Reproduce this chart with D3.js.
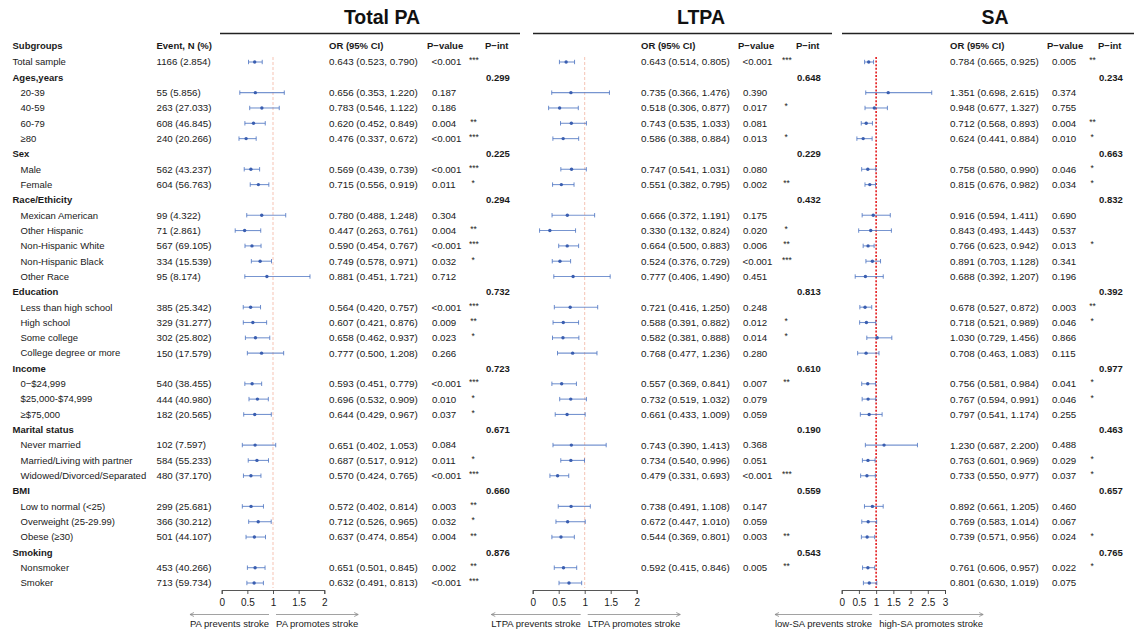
<!DOCTYPE html>
<html>
<head>
<meta charset="utf-8">
<script src="https://cdn.jsdelivr.net/npm/d3@7"></script>
<style>
  body { margin: 0; background: #fff; }
  svg { font-family: "Liberation Sans", Arial, sans-serif; }
</style>
</head>
<body>
<div class="forestContainer"></div>
<script>
var subgroups = ["Total sample", "Ages,years", "20-39", "40-59", "60-79", "\u226580",
    "Sex", "Male", "Female",
    "Race/Ethicity", "Mexican American", "Other Hispanic", "Non-Hispanic White", "Non-Hispanic Black", "Other Race",
    "Education", "Less than high school", "High school", "Some college", "College degree or more",
    "Income", "0\u2212$24,999", "$25,000-$74,999", "\u2265$75,000",
    "Marital status", "Never married", "Married/Living with partner", "Widowed/Divorced/Separated",
    "BMI", "Low to normal (<25)", "Overweight (25-29.99)", "Obese (\u226530)",
    "Smoking", "Nonsmoker", "Smoker"];

var events = ["1166 (2.854)", null, "55 (5.856)", "263 (27.033)", "608 (46.845)", "240 (20.266)",
    null, "562 (43.237)", "604 (56.763)",
    null, "99 (4.322)", "71 (2.861)", "567 (69.105)", "334 (15.539)", "95 (8.174)",
    null, "385 (25.342)", "329 (31.277)", "302 (25.802)", "150 (17.579)",
    null, "540 (38.455)", "444 (40.980)", "182 (20.565)",
    null, "102 (7.597)", "584 (55.233)", "480 (37.170)",
    null, "299 (25.681)", "366 (30.212)", "501 (44.107)",
    null, "453 (40.266)", "713 (59.734)"];

var groups = ["Ages,years", "Sex", "Race/Ethicity", "Education", "Income", "Marital status", "BMI", "Smoking"];

// Total PA
var totalOR = [0.643, null, 0.656, 0.783, 0.620, 0.476, null, 0.569, 0.715, null, 0.780, 0.447, 0.590, 0.749, 0.881,
    null, 0.564, 0.607, 0.658, 0.777, null, 0.593, 0.696, 0.644, null, 0.651, 0.687, 0.570, null, 0.572, 0.712, 0.637,
    null, 0.651, 0.632];
var totalLo = [0.523, null, 0.353, 0.546, 0.452, 0.337, null, 0.439, 0.556, null, 0.488, 0.263, 0.454, 0.578, 0.451,
    null, 0.420, 0.421, 0.462, 0.500, null, 0.451, 0.532, 0.429, null, 0.402, 0.517, 0.424, null, 0.402, 0.526, 0.474,
    null, 0.501, 0.491];
var totalHi = [0.790, null, 1.220, 1.122, 0.849, 0.672, null, 0.739, 0.919, null, 1.248, 0.761, 0.767, 0.971, 1.721,
    null, 0.757, 0.876, 0.937, 1.208, null, 0.779, 0.909, 0.967, null, 1.053, 0.912, 0.765, null, 0.814, 0.965, 0.854,
    null, 0.845, 0.813];
var totalP = ["<0.001", null, "0.187", "0.186", "0.004", "<0.001", null, "<0.001", "0.011", null, "0.304", "0.004", "<0.001", "0.032", "0.712",
    null, "<0.001", "0.009", "0.023", "0.266", null, "<0.001", "0.010", "0.037", null, "0.084", "0.011", "<0.001", null, "0.003", "0.032", "0.004",
    null, "0.002", "<0.001"];
var totalPint = ["0.299", "0.225", "0.294", "0.732", "0.723", "0.671", "0.660", "0.876"];

// LTPA
var ltpaOR = [0.643, null, 0.735, 0.518, 0.743, 0.586, null, 0.747, 0.551, null, 0.666, 0.330, 0.664, 0.524, 0.777,
    null, 0.721, 0.588, 0.582, 0.768, null, 0.557, 0.732, 0.661, null, 0.743, 0.734, 0.479, null, 0.738, 0.672, 0.544,
    null, 0.592, 0.698];
var ltpaLo = [0.514, null, 0.366, 0.306, 0.535, 0.388, null, 0.541, 0.382, null, 0.372, 0.132, 0.500, 0.376, 0.406,
    null, 0.416, 0.391, 0.381, 0.477, null, 0.369, 0.519, 0.433, null, 0.390, 0.540, 0.331, null, 0.491, 0.447, 0.369,
    null, 0.415, 0.506];
var ltpaHi = [0.805, null, 1.476, 0.877, 1.033, 0.884, null, 1.031, 0.795, null, 1.191, 0.824, 0.883, 0.729, 1.490,
    null, 1.250, 0.882, 0.888, 1.236, null, 0.841, 1.032, 1.009, null, 1.413, 0.996, 0.693, null, 1.108, 1.010, 0.801,
    null, 0.846, 0.942];
var ltpaP = ["<0.001", null, "0.390", "0.017", "0.081", "0.013", null, "0.080", "0.002", null, "0.175", "0.020", "0.006", "<0.001", "0.451",
    null, "0.248", "0.012", "0.014", "0.280", null, "0.007", "0.079", "0.059", null, "0.368", "0.051", "<0.001", null, "0.147", "0.059", "0.003",
    null, "0.005", null];
var ltpaPint = ["0.648", "0.229", "0.432", "0.813", "0.610", "0.190", "0.559", "0.543"];

// SA
var saOR = [0.784, null, 1.351, 0.948, 0.712, 0.624, null, 0.758, 0.815, null, 0.916, 0.843, 0.766, 0.891, 0.688,
    null, 0.678, 0.718, 1.030, 0.708, null, 0.756, 0.767, 0.797, null, 1.230, 0.763, 0.733, null, 0.892, 0.769, 0.739,
    null, 0.761, 0.801];
var saLo = [0.665, null, 0.698, 0.677, 0.568, 0.441, null, 0.580, 0.676, null, 0.594, 0.493, 0.623, 0.703, 0.392,
    null, 0.527, 0.521, 0.729, 0.463, null, 0.581, 0.594, 0.541, null, 0.687, 0.601, 0.550, null, 0.661, 0.583, 0.571,
    null, 0.606, 0.630];
var saHi = [0.925, null, 2.615, 1.327, 0.893, 0.884, null, 0.990, 0.982, null, 1.411, 1.443, 0.942, 1.128, 1.207,
    null, 0.872, 0.989, 1.456, 1.083, null, 0.984, 0.991, 1.174, null, 2.200, 0.969, 0.977, null, 1.205, 1.014, 0.956,
    null, 0.957, 1.019];
var saP = ["0.005", null, "0.374", "0.755", "0.004", "0.010", null, "0.046", "0.034", null, "0.690", "0.537", "0.013", "0.341", "0.196",
    null, "0.003", "0.046", "0.866", "0.115", null, "0.041", "0.046", "0.255", null, "0.488", "0.029", "0.037", null, "0.460", "0.067", "0.024",
    null, "0.022", "0.075"];
var saPint = ["0.234", "0.663", "0.832", "0.392", "0.977", "0.463", "0.657", "0.765"];

var totalTicks = [0, 0.5, 1, 1.5, 2],
    saTicks = [0, 0.5, 1, 1.5, 2, 2.5, 3];

var panels = [
    {title: "Total PA", or: totalOR, lo: totalLo, hi: totalHi, p: totalP, pint: totalPint,
     ticks: totalTicks, range: [221.7, 324.3], orX: 329, pX: 432, starX: 469, pintX: 486,
     titleX: 382, line: [220, 520], left: "PA prevents stroke", right: "PA promotes stroke",
     ref: "#f6c3b3", refDash: "3,2", refW: 1},
    {title: "LTPA", or: ltpaOR, lo: ltpaLo, hi: ltpaHi, p: ltpaP, pint: ltpaPint,
     ticks: totalTicks, range: [532.7, 636.7], orX: 641, pX: 743, starX: 782, pintX: 797,
     titleX: 701, line: [533, 832], left: "LTPA prevents stroke", right: "LTPA promotes stroke",
     ref: "#f6c3b3", refDash: "3,2", refW: 1},
    {title: "SA", or: saOR, lo: saLo, hi: saHi, p: saP, pint: saPint,
     ticks: saTicks, range: [841.7, 945], orX: 950, pX: 1052, starX: 1088, pintX: 1099,
     titleX: 995, line: [842, 1134], left: "low-SA prevents stroke", right: "high-SA promotes stroke",
     ref: "#e41a1c", refDash: "2,1.6", refW: 1.6}
];

var w = 1136,
    h = 632,
    ink = "#1a1a1a",
    blue = "#4a72c0",
    numSize = 9.85,
    f3 = d3.format(".3f");

var svg = d3.select(".forestContainer")
    .append("svg")
    .attr("width", w)
    .attr("height", h);

var y = d3.scalePoint()
    .domain(d3.range(subgroups.length))
    .range([62, 583]);

function stars(p) {
    if (p === "<0.001") return "***";
    var v = +p;
    if (v < 0.01) return "**";
    if (v < 0.05) return "*";
    return "";
}

// left columns
svg.append("text").attr("x", 12.5).attr("y", 46).attr("dy", "0.35em")
    .attr("font-size", 9.5).attr("font-weight", "bold").attr("fill", ink).text("Subgroups");
svg.append("text").attr("x", 156.5).attr("y", 46).attr("dy", "0.35em")
    .attr("font-size", 9.5).attr("font-weight", "bold").attr("fill", ink).text("Event, N (%)");

svg.selectAll(".sub")
    .data(subgroups)
    .enter().append("text")
    .attr("class", "sub")
    .attr("x", function (d, i) { return i > 0 && events[i] !== null ? 20.5 : 12.5; })
    .attr("y", function (d, i) { return y(i); })
    .attr("dy", "0.35em")
    .attr("font-size", 9.5)
    .attr("font-weight", function (d, i) { return events[i] === null ? "bold" : "normal"; })
    .attr("fill", ink)
    .text(function (d) { return d; });

svg.selectAll(".ev")
    .data(events)
    .enter().append("text")
    .attr("class", "ev")
    .attr("x", 156.5)
    .attr("y", function (d, i) { return y(i); })
    .attr("dy", "0.35em")
    .attr("font-size", 9.7)
    .attr("fill", ink)
    .text(function (d) { return d || ""; });

panels.forEach(function (pn) {
    var x = d3.scaleLinear()
        .domain([0, d3.max(pn.ticks)])
        .range(pn.range);
    var g = svg.append("g");

    g.append("text")
        .attr("x", pn.titleX).attr("y", 24)
        .attr("text-anchor", "middle")
        .attr("font-size", 19.5).attr("font-weight", "bold").attr("fill", "#111")
        .text(pn.title);
    g.append("line")
        .attr("x1", pn.line[0]).attr("x2", pn.line[1])
        .attr("y1", 33.5).attr("y2", 33.5)
        .attr("stroke", "#222").attr("stroke-width", 1.3);

    [["OR (95% CI)", pn.orX], ["P\u2212value", pn.pX - 5], ["P\u2212int", pn.pintX - 1]].forEach(function (hd) {
        g.append("text")
            .attr("x", hd[1]).attr("y", 46).attr("dy", "0.35em")
            .attr("font-size", 9.5).attr("font-weight", "bold").attr("fill", ink)
            .text(hd[0]);
    });

    // reference line at OR = 1
    g.append("line")
        .attr("x1", x(1)).attr("x2", x(1))
        .attr("y1", 57).attr("y2", 588)
        .attr("stroke", pn.ref)
        .attr("stroke-width", pn.refW)
        .attr("stroke-dasharray", pn.refDash);

    var rows = d3.range(subgroups.length).filter(function (i) { return pn.or[i] !== null; });

    g.selectAll(".ci")
        .data(rows)
        .enter().append("line")
        .attr("x1", function (i) { return x(pn.lo[i]); })
        .attr("x2", function (i) { return x(pn.hi[i]); })
        .attr("y1", function (i) { return y(i); })
        .attr("y2", function (i) { return y(i); })
        .attr("stroke", blue).attr("stroke-opacity", 0.75).attr("stroke-width", 1.1);

    ["lo", "hi"].forEach(function (k) {
        g.selectAll(".cap" + k)
            .data(rows)
            .enter().append("line")
            .attr("x1", function (i) { return x(pn[k][i]); })
            .attr("x2", function (i) { return x(pn[k][i]); })
            .attr("y1", function (i) { return y(i) - 2.2; })
            .attr("y2", function (i) { return y(i) + 2.2; })
            .attr("stroke", blue).attr("stroke-opacity", 0.8).attr("stroke-width", 1);
    });

    g.selectAll(".pt")
        .data(rows)
        .enter().append("circle")
        .attr("cx", function (i) { return x(pn.or[i]); })
        .attr("cy", function (i) { return y(i); })
        .attr("r", 1.7)
        .attr("fill", "#3a5eb0");

    var labelled = rows.filter(function (i) { return pn.p[i] !== null; });

    g.selectAll(".ort")
        .data(labelled)
        .enter().append("text")
        .attr("x", pn.orX).attr("y", function (i) { return y(i); }).attr("dy", "0.35em")
        .attr("font-size", numSize).attr("fill", ink)
        .text(function (i) { return f3(pn.or[i]) + " (" + f3(pn.lo[i]) + ", " + f3(pn.hi[i]) + ")"; });

    g.selectAll(".pv")
        .data(labelled)
        .enter().append("text")
        .attr("x", function (i) { return pn.p[i] === "<0.001" ? pn.pX - 0.5 : pn.pX; })
        .attr("y", function (i) { return y(i); }).attr("dy", "0.35em")
        .attr("font-size", 9.7).attr("fill", ink)
        .text(function (i) { return pn.p[i]; });

    g.selectAll(".st")
        .data(labelled)
        .enter().append("text")
        .attr("x", function (i) { return pn.starX + (3 - stars(pn.p[i]).length) * 1.2; })
        .attr("y", function (i) { return y(i) - 1.5; }).attr("dy", "0.35em")
        .attr("font-size", 8.5).attr("fill", ink)
        .text(function (i) { return stars(pn.p[i]); });

    g.selectAll(".pint")
        .data(groups)
        .enter().append("text")
        .attr("x", pn.pintX)
        .attr("y", function (d) { return y(subgroups.indexOf(d)); }).attr("dy", "0.35em")
        .attr("font-size", 9.5).attr("font-weight", "bold").attr("fill", ink)
        .text(function (d, j) { return pn.pint[j]; });

    // x axis
    var ax = g.append("g")
        .attr("transform", "translate(0,590)")
        .call(d3.axisBottom(x)
            .tickValues(pn.ticks)
            .tickSize(4)
            .tickFormat(function (d) { return String(d); }));
    ax.select(".domain").attr("stroke", "#444").attr("stroke-width", 0.9);
    ax.selectAll(".tick line").attr("stroke", "#444").attr("stroke-width", 0.9);
    ax.selectAll(".tick text")
        .attr("font-family", "Liberation Sans, Arial, sans-serif")
        .attr("font-size", 10).attr("fill", ink).attr("dy", "0.9em");

    // direction arrows
    var lx = x(1) - 4,
        rx = x(1) + 3;
    var lt = g.append("text")
        .attr("x", lx).attr("y", 624).attr("dy", "0.35em")
        .attr("text-anchor", "end")
        .attr("font-size", 9.5).attr("fill", ink)
        .text(pn.left);
    var rt = g.append("text")
        .attr("x", rx).attr("y", 624).attr("dy", "0.35em")
        .attr("font-size", 9.5).attr("fill", ink)
        .text(pn.right);
    var lw = lt.node().getComputedTextLength(),
        rw = rt.node().getComputedTextLength();

    g.append("line")
        .attr("x1", lx - lw).attr("x2", lx).attr("y1", 614.5).attr("y2", 614.5)
        .attr("stroke", "#8a8a8a").attr("stroke-width", 0.8);
    g.append("path")
        .attr("d", "M" + (lx - lw + 4) + ",612.5 L" + (lx - lw) + ",614.5 L" + (lx - lw + 4) + ",616.5")
        .attr("fill", "none").attr("stroke", "#8a8a8a").attr("stroke-width", 0.8);
    g.append("line")
        .attr("x1", rx).attr("x2", rx + rw).attr("y1", 614.5).attr("y2", 614.5)
        .attr("stroke", "#8a8a8a").attr("stroke-width", 0.8);
    g.append("path")
        .attr("d", "M" + (rx + rw - 4) + ",612.5 L" + (rx + rw) + ",614.5 L" + (rx + rw - 4) + ",616.5")
        .attr("fill", "none").attr("stroke", "#8a8a8a").attr("stroke-width", 0.8);
});
</script>
</body>
</html>
